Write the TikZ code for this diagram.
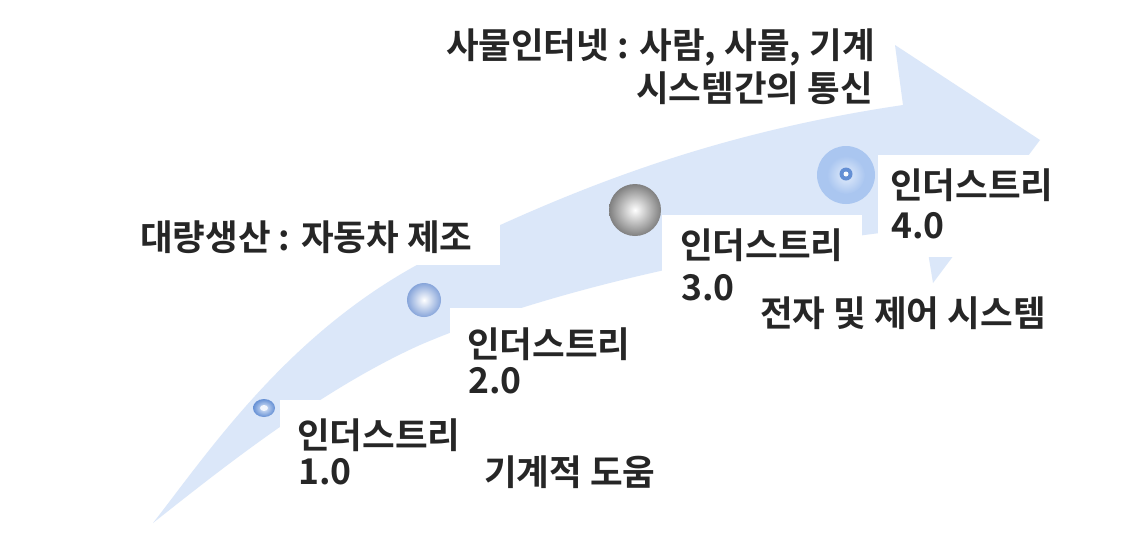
\documentclass[tikz,border=0pt]{standalone}
\usepackage{fontspec}
\setmainfont{Noto Sans CJK KR}[BoldFont={* Bold}]
\begin{document}
\begin{tikzpicture}[x=1pt,y=-1pt,
  lbl/.style={font=\fontsize{35.5}{36}\selectfont\bfseries, text=black!85, inner sep=0pt},
  cutbox/.style={fill=white, draw=none}]
\definecolor{arrowblue}{RGB}{219,231,249}
\definecolor{ringblue}{RGB}{170,198,240}
\definecolor{ringlight}{RGB}{226,236,251}
\definecolor{dotblue}{RGB}{100,143,212}
\definecolor{rimblue}{RGB}{135,165,218}
\useasboundingbox (0,0) rectangle (1140,558);
\fill[white] (0,0) rectangle (1140,558);
% big curved arrow
\coordinate (T) at (153,523);
\coordinate (U1) at (430,258);
\coordinate (U2) at (903,105);
\coordinate (H1) at (895,45);
\coordinate (tip) at (1040,140);
\coordinate (B) at (933,283);
\coordinate (L2) at (924,228);
\coordinate (L1) at (420,345);
\fill[arrowblue] (T) .. controls (210,450) and (290,330) .. (U1)
  .. controls (560,195) and (700,135) .. (U2)
  -- (H1) -- (tip) -- (B) -- (L2)
  .. controls (760,245) and (560,285) .. (L1)
  .. controls (320,390) and (220,470) .. (T) -- cycle;
% white label boxes cutting the arrow
\fill[cutbox] (130,210) rectangle (500,265);
\fill[cutbox] (280,400) rectangle (470,500);
\fill[cutbox] (450,308) rectangle (640,400);
\fill[cutbox] (662,215) rectangle (862,330);
\fill[cutbox] (878,155) rectangle (1070,257);
\fill[cutbox] (740,285) rectangle (1060,340);
% markers
\shade[inner color=ringlight, outer color=dotblue] (264,408) ellipse [x radius=11, y radius=9];
\fill[white!55!ringlight] (264,408) ellipse [x radius=4, y radius=3];
\shade[inner color=white, outer color=rimblue] (424,300) circle [radius=17];
\shade[inner color=white, outer color=black!50] (635,210) circle [radius=26];
\fill[ringblue] (846,175) circle [radius=29];
\shade[inner color=ringlight, outer color=ringblue] (846,175) circle [radius=19];
\fill[dotblue] (846,174) circle [radius=6.5];
\fill[white!85!ringlight] (846,174) circle [radius=2.5];
% texts
\node[lbl, anchor=base east] (t1) at (875,58) {사물인터넷 : 사람, 사물, 기계};
\node[lbl, anchor=base east] (t2) at (873,101) {시스템간의 통신};
\node[lbl, anchor=base west] (mass) at (140,250) {대량생산 : 자동차 제조};
\node[lbl, anchor=base west] (i1a) at (297,448) {인더스트리};
\node[lbl, anchor=base west] (i1b) at (298,484) {1.0};
\node[lbl, anchor=base west] (i2a) at (467,357) {인더스트리};
\node[lbl, anchor=base west] (i2b) at (468,393) {2.0};
\node[lbl, anchor=base west] (i3a) at (680,258) {인더스트리};
\node[lbl, anchor=base west] (i3b) at (681,300) {3.0};
\node[lbl, anchor=base west] (i4a) at (890,198) {인더스트리};
\node[lbl, anchor=base west] (i4b) at (891,238) {4.0};
\node[lbl, anchor=base west] (elec) at (760,326) {전자 및 제어 시스템};
\node[lbl, anchor=base west] (mech) at (484,485) {기계적 도움};
\end{tikzpicture}
\end{document}
